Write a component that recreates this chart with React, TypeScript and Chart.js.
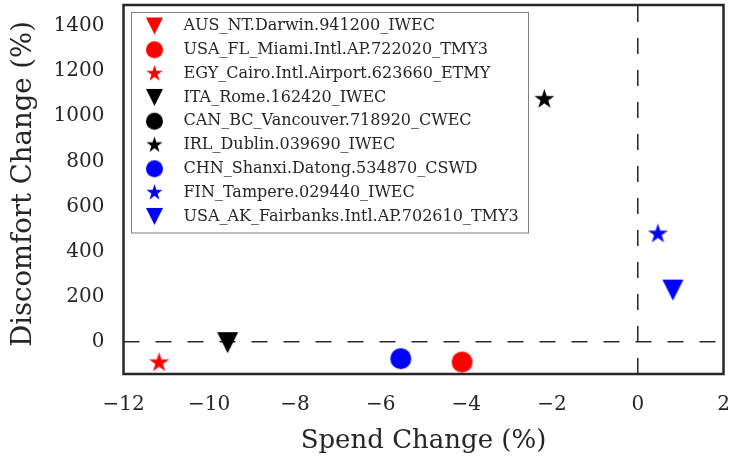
import React, { useEffect, useRef } from "react";
import { Chart, registerables } from "chart.js";

Chart.register(...registerables);

// ---- data ----
const stations = [
  "AUS_NT.Darwin.941200_IWEC",
  "USA_FL_Miami.Intl.AP.722020_TMY3",
  "EGY_Cairo.Intl.Airport.623660_ETMY",
  "ITA_Rome.162420_IWEC",
  "CAN_BC_Vancouver.718920_CWEC",
  "IRL_Dublin.039690_IWEC",
  "CHN_Shanxi.Datong.534870_CSWD",
  "FIN_Tampere.029440_IWEC",
  "USA_AK_Fairbanks.Intl.AP.702610_TMY3",
];
const markerShapes = ["triangle", "circle", "star", "triangle", "circle", "star", "circle", "star", "triangle"];
const markerColors = ["#ff0000", "#ff0000", "#ff0000", "#000000", "#000000", "#000000", "#0000ff", "#0000ff", "#0000ff"];
// null = not visible in the reference picture
const spendChange: (number | null)[] = [null, -4.1, -11.17, -9.57, null, -2.18, -5.53, 0.47, 0.82];
const discomfortChange: (number | null)[] = [null, -90, -93, -4, null, 1075, -75, 478, 229];
const xTicks = [-12, -10, -8, -6, -4, -2, 0, 2];
const yTicks = [0, 200, 400, 600, 800, 1000, 1200, 1400];
const xRange = [-12, 2];
const yRange = [-143, 1493];
const xTitle = "Spend Change (%)";
const yTitle = "Discomfort Change (%)";

const FONT = "'DejaVu Serif', serif";
const TEXT = "#262626";

function makeMarker(shape: string, color: string, s: number): HTMLCanvasElement {
  const size = Math.ceil(s) + 6;
  const c = document.createElement("canvas");
  c.width = size;
  c.height = size;
  const g = c.getContext("2d")!;
  const cx = size / 2;
  const cy = size / 2;
  const h = s / 2;
  g.fillStyle = color;
  g.beginPath();
  if (shape === "circle") {
    g.arc(cx, cy, h, 0, Math.PI * 2);
  } else if (shape === "triangle") {
    g.moveTo(cx - h, cy - h);
    g.lineTo(cx + h, cy - h);
    g.lineTo(cx, cy + h);
    g.closePath();
  } else {
    const R = h;
    const r = R * 0.381966;
    for (let i = 0; i < 10; i++) {
      const ang = -Math.PI / 2 + (i * Math.PI) / 5;
      const rad = i % 2 === 0 ? R : r;
      const px = cx + Math.cos(ang) * rad;
      const py = cy + Math.sin(ang) * rad;
      if (i === 0) g.moveTo(px, py);
      else g.lineTo(px, py);
    }
    g.closePath();
  }
  g.fill();
  return c;
}

function zeroPadding(s: any) {
  s.paddingTop = 0;
  s.paddingBottom = 0;
  s.paddingLeft = 0;
  s.paddingRight = 0;
}

export default function App() {
  const ref = useRef<HTMLCanvasElement | null>(null);

  useEffect(() => {
    document.body.style.margin = "0";
    const canvas = ref.current!;
    const plotMarkers = stations.map((_, i) => makeMarker(markerShapes[i], markerColors[i], 21));
    const legendMarkers = stations.map((_, i) => makeMarker(markerShapes[i], markerColors[i], 17));

    const datasets = stations.map((name, i) => ({
      label: name,
      data:
        spendChange[i] === null || discomfortChange[i] === null
          ? []
          : [{ x: spendChange[i] as number, y: discomfortChange[i] as number }],
      pointStyle: plotMarkers[i],
      pointRadius: 10,
      backgroundColor: markerColors[i],
      borderColor: markerColors[i],
    }));

    const decor = {
      id: "decor",
      beforeDatasetsDraw(chart: any) {
        const { ctx, chartArea: a, scales } = chart;
        const x0 = scales.x.getPixelForValue(0);
        const y0 = scales.y.getPixelForValue(0);
        ctx.save();
        ctx.strokeStyle = TEXT;
        ctx.lineWidth = 1.5;
        ctx.setLineDash([16, 16]);
        ctx.beginPath();
        ctx.moveTo(a.left, y0);
        ctx.lineTo(a.right, y0);
        ctx.stroke();
        ctx.beginPath();
        ctx.moveTo(x0, a.bottom);
        ctx.lineTo(x0, a.top);
        ctx.stroke();
        ctx.restore();
      },
      afterDatasetsDraw(chart: any) {
        const { ctx, chartArea: a } = chart;
        ctx.save();
        // legend
        const lx = a.left + 8;
        const ly = a.top + 7.5;
        const lw = 397;
        const lh = 220.5;
        ctx.fillStyle = "#ffffff";
        ctx.fillRect(lx, ly, lw, lh);
        ctx.strokeStyle = "#7f7f7f";
        ctx.lineWidth = 1;
        ctx.strokeRect(lx, ly, lw, lh);
        ctx.font = `16px ${FONT}`;
        ctx.textBaseline = "middle";
        ctx.textAlign = "left";
        stations.forEach((name, i) => {
          const ry = ly + 13.5 + i * 23.8;
          const m = legendMarkers[i];
          ctx.drawImage(m, lx + 23 - m.width / 2, ry - m.height / 2);
          ctx.fillStyle = TEXT;
          ctx.fillText(name, lx + 52, ry);
        });
        // frame
        ctx.strokeStyle = TEXT;
        ctx.lineWidth = 2.5;
        ctx.strokeRect(a.left, a.top, a.right - a.left, a.bottom - a.top);
        // y axis title
        ctx.translate(23.5, 184);
        ctx.rotate(-Math.PI / 2);
        ctx.font = `27.5px ${FONT}`;
        ctx.textAlign = "center";
        ctx.textBaseline = "middle";
        ctx.fillStyle = TEXT;
        ctx.fillText(yTitle, 0, 0);
        ctx.restore();
      },
    };

    const minus = (v: any) => String(v).replace("-", "\u2212");

    const chart = new Chart(canvas, {
      type: "scatter",
      data: { datasets: datasets as any },
      options: {
        animation: false,
        responsive: false,
        devicePixelRatio: 1,
        layout: { autoPadding: false, padding: { top: 5, right: 8.5, bottom: 0, left: 0 } },
        plugins: { legend: { display: false }, tooltip: { enabled: false } },
        scales: {
          x: {
            type: "linear",
            min: xRange[0],
            max: xRange[1],
            grid: { display: false, drawTicks: false },
            border: { display: false },
            afterBuildTicks: (s: any) => {
              s.ticks = xTicks.map((v) => ({ value: v }));
            },
            afterFit: (s: any) => {
              s.height = 84;
              zeroPadding(s);
            },
            ticks: {
              padding: 19,
              color: TEXT,
              font: { family: FONT, size: 20 },
              callback: minus,
              maxRotation: 0,
              autoSkip: false,
            },
            title: {
              display: true,
              text: xTitle,
              color: TEXT,
              font: { family: FONT, size: 26 },
              padding: { top: 0, bottom: 1.5 },
            },
          },
          y: {
            type: "linear",
            min: yRange[0],
            max: yRange[1],
            grid: { display: false, drawTicks: false },
            border: { display: false },
            afterBuildTicks: (s: any) => {
              s.ticks = yTicks.map((v) => ({ value: v }));
            },
            afterFit: (s: any) => {
              s.width = 123.5;
              zeroPadding(s);
            },
            ticks: {
              padding: 19,
              color: TEXT,
              font: { family: FONT, size: 20 },
              callback: minus,
              autoSkip: false,
            },
            title: { display: false, text: yTitle },
          },
        },
      },
      plugins: [decor],
    });
    return () => chart.destroy();
  }, []);

  return <canvas ref={ref} width={732} height={458} style={{ display: "block" }} />;
}
